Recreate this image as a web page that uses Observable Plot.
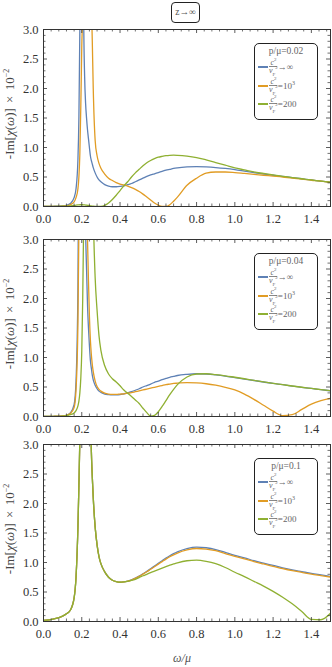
<!DOCTYPE html>
<html><head><meta charset="utf-8">
<script src="https://cdn.jsdelivr.net/npm/d3@7"></script>
<script src="https://cdn.jsdelivr.net/npm/@observablehq/plot@0.6"></script>
<style>
body{margin:0;background:#fff;}
#root{position:relative;width:332px;height:667px;font-family:"Liberation Serif","DejaVu Serif",serif;color:#444;overflow:hidden}
.panel{position:absolute;left:0;width:332px;height:205px}
.panel svg{position:absolute;left:0;top:0}
.leg{position:absolute;left:254px;top:17px;width:62px;height:75px;border:1.3px solid #222;border-radius:5px;background:#fff;color:#666;font-family:"Liberation Serif",serif;font-weight:normal}
.leg .ttl{position:absolute;left:0;right:0;top:2px;text-align:center;font-size:9.5px;line-height:10px}
.leg .row{position:absolute;left:3px;height:18px;display:flex;align-items:center;font-size:9px;white-space:nowrap}
.leg .sw{width:10px;height:2px;margin-right:1px}
.frac{display:inline-flex;flex-direction:column;align-items:center;font-size:8px;line-height:7.5px}
.frac .num{border-bottom:0.7px solid #888;padding:0 1px}
.frac sup,.frac sub{font-size:5px;line-height:0}
.leg .suf sup{font-size:6px;line-height:0}
.ylab{position:absolute;width:180px;height:16px;text-align:center;font-size:13px;line-height:16px;transform:rotate(-90deg);transform-origin:50% 50%;white-space:nowrap;color:#444;word-spacing:2px}
.ylab sup{font-size:8px;line-height:0}
#title{position:absolute;left:171px;top:2px;width:27px;height:19px;border:1.3px solid #222;border-radius:4px;font-size:9.5px;line-height:19px;text-align:center;color:#555}
#xlab{position:absolute;left:150px;width:64px;top:651px;text-align:center;font-size:12px;font-style:italic;color:#555}
</style></head>
<body><div id="root"></div>
<script>
// ω/μ grid shared by all series
const W = [0,0.05,0.1,0.12,0.14,0.16,0.17,0.18,0.185,0.19,
  0.195,0.2,0.205,0.21,0.215,0.22,0.225,0.23,0.235,0.24,
  0.245,0.25,0.255,0.26,0.27,0.28,0.29,0.3,0.32,0.34,
  0.36,0.38,0.4,0.42,0.44,0.46,0.48,0.5,0.52,0.54,
  0.56,0.58,0.6,0.62,0.64,0.66,0.68,0.7,0.75,0.8,
  0.85,0.9,0.95,1.0,1.05,1.1,1.15,1.2,1.25,1.3,
  1.35,1.4,1.45,1.5];

// Panel 1: p/μ = 0.02
const p1Inf = [0,0.003,0.01,0.02,0.05,0.15,0.3,0.8,1.5,3.0, 6,9,6,3.2,2.2,1.75,1.5,1.3,1.15,1.0, 0.86,0.78,0.72,0.66,0.57,0.5,0.45,0.42,0.37,0.345, 0.335,0.335,0.34,0.35,0.37,0.39,0.42,0.45,0.48,0.51, 0.535,0.555,0.575,0.595,0.615,0.63,0.645,0.655,0.67,0.675, 0.67,0.66,0.645,0.625,0.6,0.575,0.55,0.53,0.51,0.49, 0.47,0.45,0.43,0.41];
const p1K = [0,0.003,0.008,0.012,0.03,0.08,0.15,0.3,0.5,0.9, 1.7,2.7,3.5,6,9,10,10,9,7,5.5, 4.3,3.5,2.8,2.0,1.12,0.86,0.73,0.65,0.55,0.48, 0.44,0.405,0.38,0.365,0.345,0.32,0.29,0.255,0.21,0.16, 0.11,0.06,0.022,0.002,0.002,0.03,0.09,0.16,0.36,0.48, 0.565,0.585,0.585,0.575,0.56,0.545,0.53,0.515,0.5,0.48, 0.465,0.445,0.43,0.41];
const p1C200 = [0,0.002,0.005,0.008,0.012,0.018,0.022,0.026,0.028,0.03, 0.03,0.03,0.03,0.029,0.027,0.025,0.022,0.02,0.017,0.014, 0.011,0.009,0.007,0.005,0.002,0.001,0,0.002,0.02,0.06, 0.12,0.19,0.27,0.35,0.42,0.5,0.57,0.63,0.69,0.74, 0.78,0.81,0.835,0.85,0.862,0.868,0.87,0.868,0.855,0.83, 0.79,0.745,0.70,0.655,0.62,0.585,0.56,0.535,0.51,0.49, 0.47,0.45,0.43,0.41];

// Panel 2: p/μ = 0.04
const p2Inf = [0,0.003,0.01,0.02,0.06,0.2,0.6,2.2,5,8, 10,10,9,7,4,3.1,2.5,1.9,1.5,1.2, 0.95,0.82,0.7,0.62,0.53,0.47,0.43,0.41,0.38,0.37, 0.365,0.365,0.37,0.385,0.40,0.42,0.445,0.47,0.5,0.525, 0.55,0.58,0.60,0.625,0.645,0.665,0.68,0.695,0.715,0.725, 0.72,0.705,0.685,0.66,0.635,0.61,0.585,0.56,0.54,0.515, 0.495,0.475,0.455,0.435];
const p2K = [0,0.003,0.01,0.02,0.05,0.15,0.45,1.6,3.2,6, 9,10,10,9,7,5,3.8,3.0,2.3,1.7, 1.3,1.05,0.88,0.76,0.6,0.51,0.46,0.43,0.395,0.38, 0.375,0.375,0.38,0.385,0.395,0.405,0.42,0.435,0.45,0.465, 0.48,0.495,0.51,0.525,0.54,0.55,0.56,0.565,0.575,0.57, 0.555,0.53,0.495,0.45,0.38,0.29,0.19,0.09,0.015,0.03, 0.12,0.21,0.27,0.31];
const p2C200 = [0,0.002,0.008,0.015,0.03,0.06,0.1,0.18,0.26,0.4, 0.65,1.1,2.0,3.3,5,7,9,10,10,9, 7.5,6,4.6,3.5,2.35,1.8,1.37,1.12,0.86,0.72, 0.64,0.585,0.52,0.45,0.395,0.34,0.28,0.22,0.14,0.065, 0.008,0.02,0.08,0.17,0.27,0.37,0.46,0.54,0.67,0.72, 0.725,0.71,0.69,0.665,0.64,0.612,0.587,0.562,0.54,0.517, 0.496,0.476,0.456,0.436];

// Panel 3: p/μ = 0.1
const p3Inf = [0.02,0.04,0.09,0.13,0.19,0.4,0.75,1.6,2.3,3.1, 4.2,5.5,7,8,8.5,8.5,8,7,6,4.8, 3.7,2.9,2.45,2.1,1.6,1.3,1.1,0.98,0.84,0.75, 0.70,0.675,0.665,0.67, 0.685,0.705,0.735,0.77,0.81,0.85,0.895,0.94,0.985,1.03, 1.075,1.115,1.15,1.18,1.235,1.26,1.25,1.22,1.17,1.12, 1.08,1.03,0.99,0.95,0.91,0.875,0.845,0.815,0.79,0.765];
const p3K = [0.02,0.04,0.09,0.13,0.19,0.4,0.75,1.6,2.3,3.1, 4.2,5.5,7,8,8.5,8.5,8,7,6,4.8, 3.7,2.9,2.45,2.1,1.6,1.3,1.1,0.98,0.84,0.75, 0.70,0.675,0.665,0.67, 0.683,0.703,0.732,0.765,0.803,0.842,0.885,0.928,0.972,1.015, 1.058,1.097,1.13,1.16,1.213,1.237,1.228,1.2,1.152,1.103, 1.063,1.015,0.975,0.936,0.897,0.862,0.832,0.803,0.778,0.753];
const p3C200 = [0.02,0.04,0.09,0.13,0.19,0.4,0.75,1.6,2.3,3.1, 4.2,5.5,7,8,8.5,8.5,8,7,6,4.8, 3.7,2.9,2.45,2.1,1.6,1.3,1.1,0.98,0.84,0.75, 0.70,0.675,0.665,0.67, 0.68,0.695,0.715,0.745,0.775,0.80,0.83,0.855,0.88,0.905, 0.93,0.955,0.975,0.995,1.03,1.04,1.02,0.98,0.915,0.835, 0.76,0.68,0.60,0.51,0.41,0.30,0.17,0.035,0.03,0.14];

const seriesKeys = ["inf", "1e3", "200"];
const seriesColors = ["#5E81B5", "#E19C24", "#8FB032"];
const panelTitles = ["p/μ=0.02", "p/μ=0.04", "p/μ=0.1"];
const xTicks = [0, 0.2, 0.4, 0.6, 0.8, 1.0, 1.2, 1.4];
const yTicks = [0, 0.5, 1.0, 1.5, 2.0, 2.5, 3.0];
const xMinorStep = 0.04, yMinorStep = 0.1;

const panels = [
  {top: 26, data: [p1Inf, p1K, p1C200], title: panelTitles[0]},
  {top: 236, data: [p2Inf, p2K, p2C200], title: panelTitles[1]},
  {top: 441, data: [p3Inf, p3K, p3C200], title: panelTitles[2]}
];

const root = document.getElementById("root");
const fmt = d3.format(".1f");
const xMinor = d3.range(0, 1.5001, xMinorStep).filter(d => Math.abs(d / 0.2 - Math.round(d / 0.2)) > 1e-6);
const yMinor = d3.range(0, 3.0001, yMinorStep).filter(d => Math.abs(d / 0.5 - Math.round(d / 0.5)) > 1e-6);
const FH = 177; // frame height
const SERIF = "Liberation Serif";

const sufs = ["→∞", "=10<sup>3</sup>", "=200"];

panels.forEach((p, pi) => {
  const rows = [];
  p.data.forEach((arr, si) => arr.forEach((v, i) => rows.push({w: W[i], v, s: seriesKeys[si]})));
  const tick = "#333";
  const chart = Plot.plot({
    width: 332, height: 205, marginLeft: 43, marginRight: 2, marginTop: 3, marginBottom: 25,
    style: {fontFamily: SERIF, fontSize: "12px", background: "transparent", overflow: "visible"},
    x: {domain: [0, 1.5]},
    y: {domain: [0, 3]},
    color: {domain: seriesKeys, range: seriesColors},
    marks: [
      Plot.line(rows, {x: "w", y: "v", z: "s", stroke: "s", strokeWidth: 1.3, curve: "monotone-x", clip: true}),
      Plot.ruleX(xTicks, {x: d => d, insetTop: FH - 4, stroke: tick, strokeWidth: 0.8}),
      Plot.ruleX(xTicks, {x: d => d, insetBottom: FH - 4, stroke: tick, strokeWidth: 0.8}),
      Plot.ruleX(xMinor, {x: d => d, insetTop: FH - 2.5, stroke: tick, strokeWidth: 0.7}),
      Plot.ruleX(xMinor, {x: d => d, insetBottom: FH - 2.5, stroke: tick, strokeWidth: 0.7}),
      Plot.ruleY(yTicks, {y: d => d, insetRight: 283, stroke: tick, strokeWidth: 0.8}),
      Plot.ruleY(yTicks, {y: d => d, insetLeft: 283, stroke: tick, strokeWidth: 0.8}),
      Plot.ruleY(yMinor, {y: d => d, insetRight: 284.5, stroke: tick, strokeWidth: 0.7}),
      Plot.ruleY(yMinor, {y: d => d, insetLeft: 284.5, stroke: tick, strokeWidth: 0.7}),
      Plot.frame({stroke: "#333", strokeWidth: 1}),
      Plot.axisX(xTicks, {tickSize: 0, tickPadding: 8, tickFormat: fmt, label: null, fontSize: 12.5, fontFamily: SERIF, fill: "#333"}),
      Plot.axisY(yTicks, {tickSize: 0, tickPadding: 5, tickFormat: fmt, label: null, fontSize: 12.5, fontFamily: SERIF, fill: "#333"})
    ]
  });
  const div = document.createElement("div");
  div.className = "panel";
  div.style.top = p.top + "px";
  div.appendChild(chart);

  const leg = document.createElement("div");
  leg.className = "leg";
  let html = `<div class="ttl">${p.title}</div>`;
  [23, 42, 60].forEach((cy, k) => {
    html += `<div class="row" style="top:${cy - 9}px"><span class="sw" style="background:${seriesColors[k]}"></span>` +
      `<span class="frac"><span class="num"><i>c</i><sup>2</sup></span><span class="den"><i>v</i><sub>F</sub><sup>2</sup></span></span>` +
      `<span class="suf">${sufs[k]}</span></div>`;
  });
  leg.innerHTML = html;
  div.appendChild(leg);

  const yl = document.createElement("div");
  yl.className = "ylab";
  yl.style.top = (3 + FH / 2 - 8 - 4) + "px";
  yl.style.left = (10 - 90) + "px";
  yl.innerHTML = `-Im[<i>χ</i>(<i>ω</i>)] × 10<sup>−2</sup>`;
  div.appendChild(yl);
  root.appendChild(div);
});

const t = document.createElement("div");
t.id = "title"; t.textContent = "z→∞";
root.appendChild(t);
const xl = document.createElement("div");
xl.id = "xlab"; xl.textContent = "ω/μ";
root.appendChild(xl);
</script>
</body></html>
